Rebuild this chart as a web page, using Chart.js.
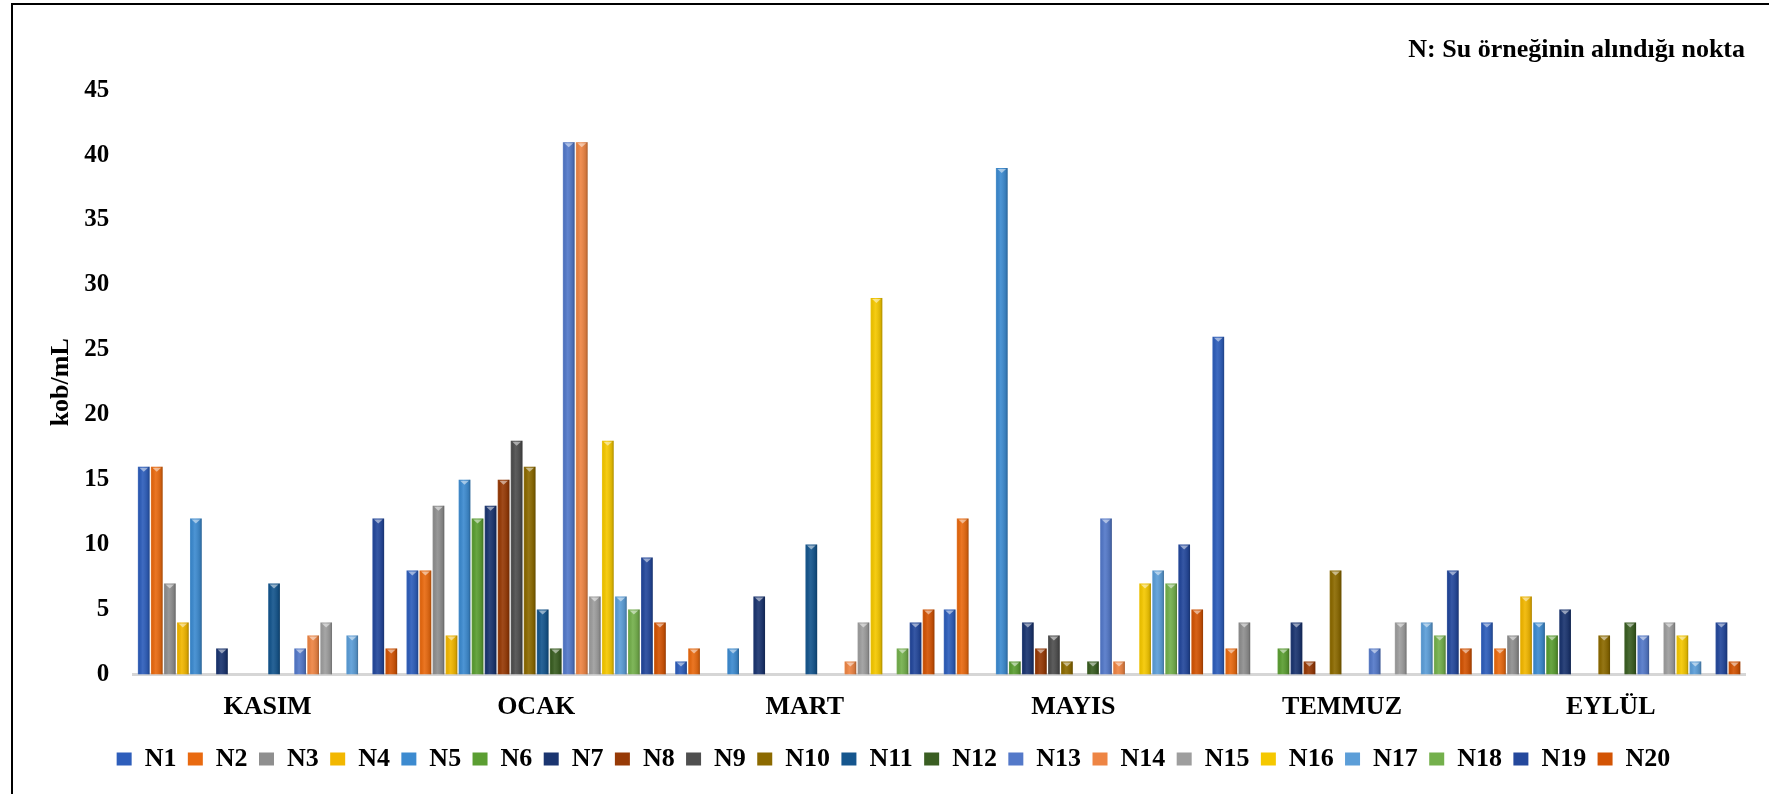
<!DOCTYPE html>
<html>
<head>
<meta charset="utf-8">
<script src="https://cdn.jsdelivr.net/npm/chart.js@4.4.0/dist/chart.umd.min.js"></script>
<style>
body { margin: 0; background: #fff; }
#wrap { position: relative; width: 1769px; height: 794px; overflow: hidden; }
#frame { position: absolute; left: 11px; top: 3px; width: 1800px; height: 900px; border-left: 2px solid #000; border-top: 2px solid #000; pointer-events: none; }
</style>
</head>
<body>
<div id="wrap">
  <canvas id="chart1"></canvas>
  <div id="frame"></div>
</div>
<script>
const months = ["KASIM", "OCAK", "MART", "MAYIS", "TEMMUZ", "EYLÜL"];
const points = ["N1", "N2", "N3", "N4", "N5", "N6", "N7", "N8", "N9", "N10",
  "N11", "N12", "N13", "N14", "N15", "N16", "N17", "N18", "N19", "N20"];

// kob/mL per point, one row per month (N1..N20)
const kasim  = [16, 16, 7, 4, 12, 0, 2, 0, 0, 0, 7, 0, 2, 3, 4, 0, 3, 0, 12, 2];
const ocak   = [8, 8, 13, 3, 15, 12, 13, 15, 18, 16, 5, 2, 41, 41, 6, 18, 6, 5, 9, 4];
const mart   = [1, 2, 0, 0, 2, 0, 6, 0, 0, 0, 10, 0, 0, 1, 4, 29, 0, 2, 4, 5];
const mayis  = [5, 12, 0, 0, 39, 1, 4, 2, 3, 1, 0, 1, 12, 1, 0, 7, 8, 7, 10, 5];
const temmuz = [26, 2, 4, 0, 0, 2, 4, 1, 0, 8, 0, 0, 2, 0, 4, 0, 4, 3, 8, 2];
const eylul  = [4, 2, 3, 6, 4, 3, 5, 0, 0, 3, 0, 4, 3, 0, 4, 3, 1, 0, 4, 1];

const yTicks = [0, 5, 10, 15, 20, 25, 30, 35, 40, 45];

const colors = ["#2E5EBB", "#E96A10", "#8F8F8F", "#F2B700", "#3D8BD0", "#5B9E32",
  "#1B3570", "#973A06", "#4F4F4F", "#8C6A00", "#15568E", "#3A5E22",
  "#5479C9", "#EE8544", "#9E9E9E", "#F5C800", "#5C9ED8", "#74B04C",
  "#24489C", "#D35404"];

const rows = [kasim, ocak, mart, mayis, temmuz, eylul];
const font = "'Liberation Serif', 'Times New Roman', serif";

const datasets = points.map((name, i) => ({
  label: name,
  data: rows.map((r) => r[i]),
  backgroundColor: colors[i],
  borderWidth: 0,
  barPercentage: 0.9,
  categoryPercentage: 0.97,
}));

// excel-ish bevel on every bar
const bevel = {
  id: "bevel",
  afterDatasetsDraw(chart) {
    const ctx = chart.ctx;
    chart.data.datasets.forEach((ds, i) => {
      const meta = chart.getDatasetMeta(i);
      meta.data.forEach((bar, j) => {
        if (!ds.data[j]) return;
        const p = bar.getProps(["x", "y", "base", "width"], true);
        const l = p.x - p.width / 2;
        const r = p.x + p.width / 2;
        const g = ctx.createLinearGradient(l, 0, r, 0);
        g.addColorStop(0, "rgba(255,255,255,0.18)");
        g.addColorStop(0.12, "rgba(0,0,0,0.05)");
        g.addColorStop(0.4, "rgba(255,255,255,0.08)");
        g.addColorStop(0.85, "rgba(0,0,0,0.12)");
        g.addColorStop(1, "rgba(0,0,0,0.3)");
        ctx.save();
        ctx.fillStyle = g;
        ctx.fillRect(l, p.y, p.width, p.base - p.y);
        ctx.fillStyle = "rgba(255,255,255,0.5)";
        ctx.beginPath();
        ctx.moveTo(l + 1.5, p.y + 1);
        ctx.lineTo(r - 1.5, p.y + 1);
        ctx.lineTo(p.x, p.y + 5);
        ctx.closePath();
        ctx.fill();
        ctx.restore();
      });
    });
  },
};

const config1 = {
  type: "bar",
  data: { labels: months, datasets: datasets },
  options: {
    responsive: true,
    maintainAspectRatio: false,
    animation: false,
    layout: { padding: { left: 42, right: 24, top: 35, bottom: 12 } },
    plugins: {
      tooltip: { enabled: false },
      title: {
        display: true,
        text: "N: Su örneğinin alındığı nokta",
        align: "end",
        color: "#000",
        font: { family: font, size: 26, weight: "bold" },
        padding: { top: 0, bottom: 24 },
      },
      legend: {
        position: "bottom",
        labels: {
          color: "#000",
          font: { family: font, size: 26, weight: "bold" },
          boxWidth: 15,
          boxHeight: 13,
          padding: 11.4,
        },
      },
    },
    scales: {
      x: {
        grid: { display: false, drawTicks: false },
        border: { display: true, color: "#D6D6D6", width: 3 },
        ticks: { color: "#000", font: { family: font, size: 26, weight: "bold" }, padding: 17 },
        afterFit: (axis) => { axis.height -= 5; },
      },
      y: {
        min: 0,
        max: 45,
        grid: { display: false, drawTicks: false },
        border: { display: false },
        afterBuildTicks: (axis) => { axis.ticks = yTicks.map((v) => ({ value: v })); },
        ticks: { color: "#000", font: { family: font, size: 25, weight: "bold" }, padding: 24 },
        title: {
          display: true,
          text: "kob/mL",
          color: "#000",
          font: { family: font, size: 26, weight: "bold" },
          padding: { top: 4, bottom: -17 },
        },
      },
    },
  },
  plugins: [bevel],
};

const myChart1 = new Chart(document.getElementById("chart1"), config1);
</script>
</body>
</html>
